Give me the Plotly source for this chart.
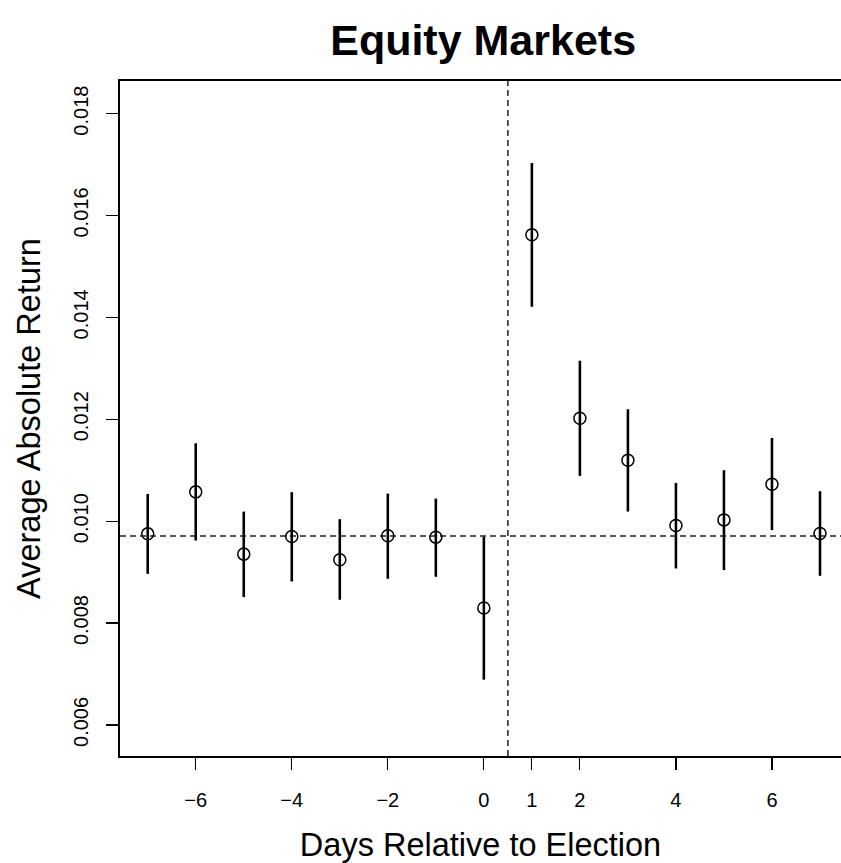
import plotly.graph_objects as go

days = [-7, -6, -5, -4, -3, -2, -1, 0, 1, 2, 3, 4, 5, 6, 7]
mean_ret = [0.009751, 0.010575, 0.009353, 0.009698, 0.009241, 0.009712, 0.009686,
            0.008294, 0.015620, 0.012020, 0.011196, 0.009914, 0.010025, 0.010725, 0.009757]
upper = [0.010535, 0.011529, 0.010188, 0.010569, 0.010039, 0.010541, 0.010443,
         0.009692, 0.017031, 0.013149, 0.012196, 0.010751, 0.011000, 0.011633, 0.010588]
lower = [0.008966, 0.009620, 0.008510, 0.008816, 0.008457, 0.008869, 0.008908,
         0.006888, 0.014208, 0.010888, 0.010188, 0.009071, 0.009039, 0.009824, 0.008927]
baseline = 0.00971
election_split = 0.5
x_ticks = [-6, -4, -2, 0, 1, 2, 4, 6]
y_ticks = [0.006, 0.008, 0.010, 0.012, 0.014, 0.016, 0.018]
y_tick_text = ["0.006", "0.008", "0.010", "0.012", "0.014", "0.016", "0.018"]

FONT = "Liberation Sans, Arial, Helvetica, sans-serif"

fig = go.Figure()

fig.add_trace(go.Scatter(
    x=days, y=mean_ret, mode="markers",
    marker=dict(symbol="circle-open", size=12, color="black", line=dict(width=1.5, color="black")),
    error_y=dict(type="data", symmetric=False,
                 array=[u - m for u, m in zip(upper, mean_ret)],
                 arrayminus=[m - l for m, l in zip(mean_ret, lower)],
                 width=0, thickness=2.6, color="black"),
    showlegend=False, hoverinfo="skip",
))

fig.add_shape(type="line", xref="paper", yref="y", x0=0, x1=1, y0=baseline, y1=baseline,
              line=dict(color="#222", width=1.5, dash="6px,4px"), layer="below")
fig.add_shape(type="line", xref="x", yref="paper", x0=election_split, x1=election_split, y0=0, y1=1,
              line=dict(color="#222", width=1.5, dash="6px,4px"), layer="below")

fig.update_layout(
    width=841, height=863,
    margin=dict(l=120, r=0, t=81, b=107),
    paper_bgcolor="white", plot_bgcolor="white",
    font=dict(family=FONT, color="black"),
    title=dict(text="<b>Equity Markets</b>", x=0.5745, xanchor="center", y=0.9535, yanchor="middle",
               font=dict(size=43, family=FONT, color="black")),
)

fig.update_xaxes(
    range=[-7.577, 7.4375], tickmode="array", tickvals=x_ticks,
    ticks="outside", ticklen=12, tickwidth=1.2, tickcolor="black",
    showline=True, linecolor="black", linewidth=2, mirror=True,
    showgrid=False, zeroline=False,
    tickfont=dict(size=20, family=FONT), ticklabelstandoff=13,
    title=dict(text="Days Relative to Election", font=dict(size=32.5, family=FONT), standoff=24),
)
fig.update_yaxes(
    range=[0.00539, 0.01864], tickmode="array", tickvals=y_ticks, ticktext=y_tick_text,
    ticks="outside", ticklen=12, tickwidth=1.2, tickcolor="black", tickangle=-90,
    showline=True, linecolor="black", linewidth=2,
    showgrid=False, zeroline=False,
    tickfont=dict(size=20, family=FONT), ticklabelstandoff=10,
    title=dict(text="Average Absolute Return", font=dict(size=32.5, family=FONT), standoff=20),
)

fig.write_html("out.html",
               config={"displayModeBar": False, "staticPlot": True},
               post_script="document.body.style.margin='0';document.body.style.overflow='hidden';")
